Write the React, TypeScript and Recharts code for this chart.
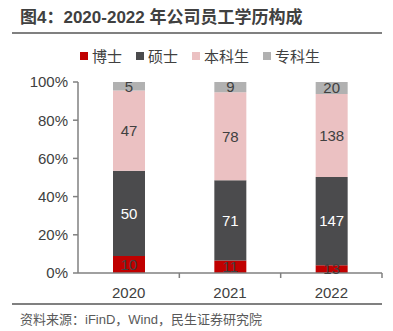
import { BarChart, Bar, XAxis, YAxis, LabelList } from 'recharts'

const years = ['2020', '2021', '2022']
const phd = [10, 11, 13]
const master = [50, 71, 147]
const bachelor = [47, 78, 138]
const college = [5, 9, 20]
const yTicks = [0, 0.2, 0.4, 0.6, 0.8, 1]

const seriesNames = ['博士', '硕士', '本科生', '专科生']
const colors = ['#C00000', '#4B4B4D', '#EBC1C2', '#B1B1B1']

const font = "Arial, 'Liberation Sans', 'Noto Sans CJK SC', sans-serif"

const data = years.map((y, i) => ({
  year: y,
  phd: phd[i],
  master: master[i],
  bachelor: bachelor[i],
  college: college[i],
}))

const PLOT_W = 304

const XTick = (props: any) => {
  const { x, y, payload } = props
  const band = PLOT_W / years.length
  return (
    <g>
      <text
        x={x}
        y={y + 25}
        textAnchor="middle"
        fill="#404040"
        fontSize={15}
        fontFamily={font}
      >
        {payload.value}
      </text>
      <line x1={x + band / 2} x2={x + band / 2} y1={y} y2={y + 5} stroke="#808080" strokeWidth={1.5} />
    </g>
  )
}

const App = () => {
  return (
    <div style={{ position: 'absolute', left: 0, top: 0, width: 393, height: 331, background: '#fff', fontFamily: font }}>
      <div style={{ position: 'absolute', left: 20, top: 3, fontSize: 17, fontWeight: 'bold', color: '#404040', whiteSpace: 'nowrap' }}>
        图4：2020-2022 年公司员工学历构成
      </div>
      <div style={{ position: 'absolute', left: 12, top: 32, width: 370, height: 2, background: '#808080' }} />
      <div style={{ position: 'absolute', left: 80, top: 45, display: 'flex', alignItems: 'center', fontSize: 15, color: '#404040' }}>
        {seriesNames.map((n, i) => (
          <div key={n} style={{ display: 'flex', alignItems: 'center', marginRight: 14 }}>
            <span style={{ display: 'inline-block', width: 8, height: 8, background: colors[i], marginRight: 4 }} />
            <span>{n}</span>
          </div>
        ))}
      </div>
      <div style={{ position: 'absolute', left: 0, top: 0 }}>
        <BarChart
          width={393}
          height={331}
          data={data}
          stackOffset="expand"
          margin={{ top: 82, right: 11, bottom: 28, left: 8 }}
        >
          <XAxis
            dataKey="year"
            height={30}
            tickLine={false}
            tickSize={0}
            tickMargin={0}
            axisLine={{ stroke: '#808080', strokeWidth: 1.5 }}
            tick={<XTick />}
            interval={0}
          />
          <YAxis
            width={70}
            domain={[0, 1]}
            ticks={yTicks}
            tickFormatter={(v: number) => `${Math.round(v * 100)}%`}
            tickSize={5}
            tickMargin={5}
            axisLine={{ stroke: '#808080', strokeWidth: 1.5 }}
            tickLine={{ stroke: '#808080', strokeWidth: 1.5 }}
            tick={{ fill: '#404040', fontSize: 15, fontFamily: font }}
          />
          <Bar dataKey="phd" stackId="a" fill={colors[0]} barSize={32} isAnimationActive={false}>
            <LabelList dataKey="phd" position="center" fill="#404040" fontSize={15} fontFamily={font} />
          </Bar>
          <Bar dataKey="master" stackId="a" fill={colors[1]} barSize={32} isAnimationActive={false}>
            <LabelList dataKey="master" position="center" fill="#ffffff" fontSize={15} fontFamily={font} />
          </Bar>
          <Bar dataKey="bachelor" stackId="a" fill={colors[2]} barSize={32} isAnimationActive={false}>
            <LabelList dataKey="bachelor" position="center" fill="#404040" fontSize={15} fontFamily={font} />
          </Bar>
          <Bar dataKey="college" stackId="a" fill={colors[3]} barSize={32} isAnimationActive={false}>
            <LabelList dataKey="college" position="center" fill="#404040" fontSize={15} fontFamily={font} />
          </Bar>
        </BarChart>
      </div>
      <div style={{ position: 'absolute', left: 12, top: 303, width: 370, height: 2, background: '#808080' }} />
      <div style={{ position: 'absolute', left: 20, top: 309, fontSize: 13, color: '#595959', whiteSpace: 'nowrap' }}>
        资料来源：iFinD，Wind，民生证券研究院
      </div>
    </div>
  )
}

export default App
